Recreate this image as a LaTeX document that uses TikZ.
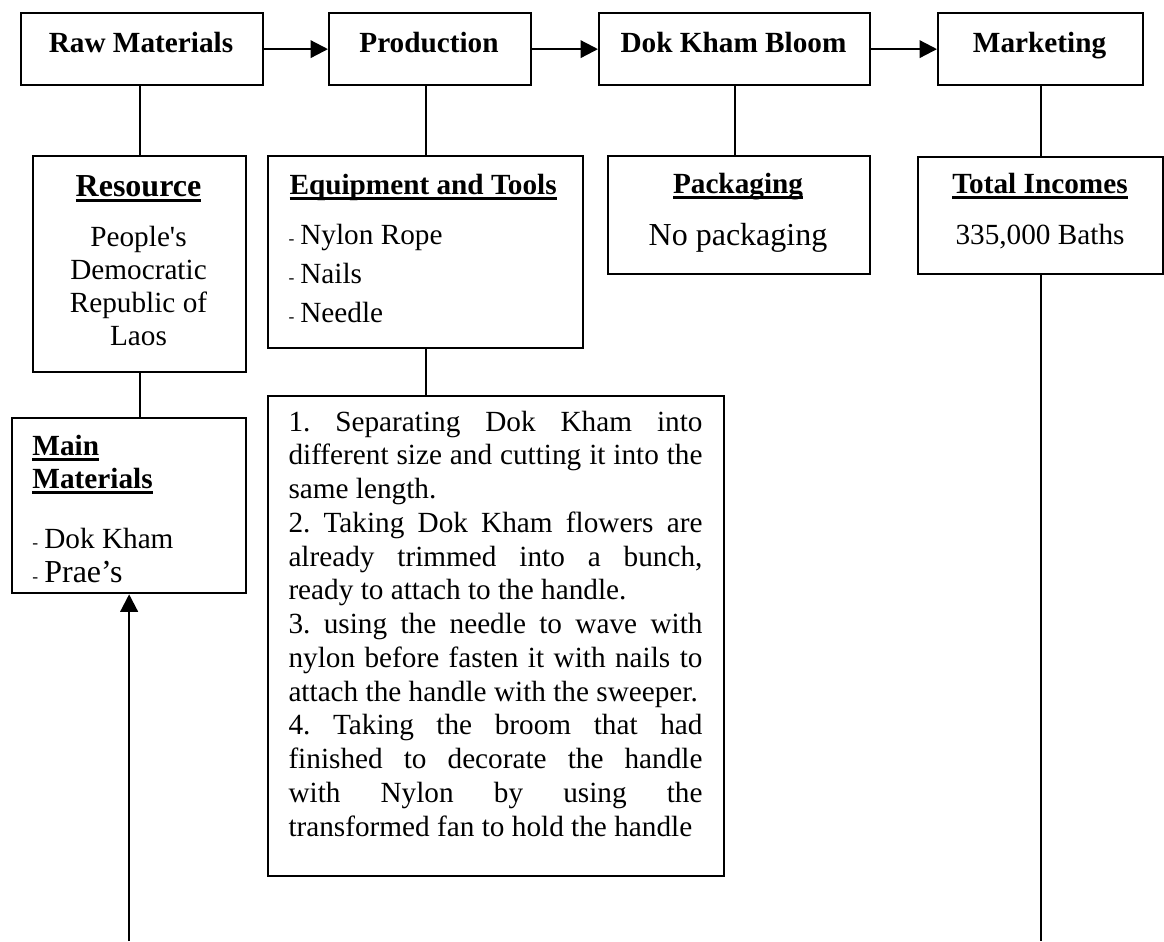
\documentclass[tikz,border=0pt]{standalone}
\usepackage{fontspec}
\setmainfont{Liberation Serif}
% same face without TeX ligature mapping, for a straight apostrophe
\newfontfamily\rawserif{Liberation Serif}
\usetikzlibrary{arrows.meta}

% bold heading with a thick rule underneath
\newcommand{\headline}[1]{\leavevmode\setbox0=\hbox{#1}\rlap{\rule[-2.4pt]{\wd0}{1.1pt}}\box0}
% small list dash
\newcommand{\smalldash}{\leavevmode{\fontsize{7}{7}\selectfont -}\hspace{2.4pt}}

\begin{document}
\begin{tikzpicture}[x=0.4pt,y=-0.4pt,
  box/.style={draw, line width=0.9pt, inner sep=0pt, anchor=north west},
  conn/.style={line width=0.9pt},
  flow/.style={line width=0.9pt, -{Triangle[length=7pt,width=7pt]}},
  ctext/.style={inner sep=0pt, anchor=base},
  ltext/.style={inner sep=0pt, anchor=base west},
  stage/.style={ctext, font=\fontsize{11.7}{13.5}\selectfont\bfseries},
  normal/.style={font=\fontsize{11.7}{13.5}\selectfont}]

\useasboundingbox (0,0) rectangle (1164,941);

% main chain
\node[box, minimum width=96.8pt,  minimum height=28.8pt] (raw)  at (20,12)  {};
\node[box, minimum width=80.8pt,  minimum height=28.8pt] (prod) at (328,12) {};
\node[box, minimum width=108.4pt, minimum height=28.8pt] (dok)  at (598,12) {};
\node[box, minimum width=82pt,    minimum height=28.8pt] (mkt)  at (937,12) {};

\node[stage] (rawT)  at (141,52)    {Raw Materials};
\node[stage] (prodT) at (429,52)    {Production};
\node[stage] (dokT)  at (733.5,52)  {Dok Kham Bloom};
\node[stage] (mktT)  at (1039.5,52) {Marketing};

% detail boxes
\node[box, minimum width=85.2pt,  minimum height=86.4pt] (res)   at (32,155)  {};
\node[box, minimum width=126pt,   minimum height=76.8pt] (equip) at (267,155) {};
\node[box, minimum width=104.8pt, minimum height=47.2pt] (pack)  at (607,155) {};
\node[box, minimum width=98pt,    minimum height=46.8pt] (total) at (917,156) {};
\node[box, minimum width=93.6pt,  minimum height=70pt]   (main)  at (11,417)  {};
\node[box, minimum width=182.4pt, minimum height=192pt]  (steps) at (267,395) {};

% Resource
\node[ctext, font=\fontsize{12.8}{14}\selectfont\bfseries] (resH) at (138.5,196) {\headline{Resource}};
\node[ctext, font=\fontsize{11.7}{13.2}\selectfont] (resB) at (138.5,246)
  {\parbox[t]{80pt}{\centering People{\rawserif'}s\\Democratic\\Republic of\\Laos}};

% Equipment and Tools
\node[ltext, font=\fontsize{11.7}{13.5}\selectfont\bfseries] (equipH) at (289,194) {\headline{Equipment and Tools}};
\node[ltext, font=\fontsize{11.7}{15.6}\selectfont] (equipB) at (288,244)
  {\parbox[t]{110pt}{\raggedright\smalldash Nylon Rope\\\smalldash Nails\\\smalldash Needle}};

% Packaging
\node[stage] (packH) at (738,193) {\headline{Packaging}};
\node[ctext, font=\fontsize{12.8}{14}\selectfont] (packB) at (738,245) {No packaging};

% Total Incomes
\node[stage] (totalH) at (1040,193) {\headline{Total Incomes}};
\node[ctext, normal] (totalB) at (1040,244) {335,000 Baths};

% Main Materials
\node[ltext, font=\fontsize{11.7}{13.2}\selectfont\bfseries] (mainH) at (32,455)
  {\parbox[t]{85pt}{\raggedright\headline{Main}\\\headline{Materials}}};
\node[ltext, normal] (mainA) at (32,548) {\smalldash Dok Kham};
\node[ltext, font=\fontsize{12.8}{14}\selectfont] (mainB) at (32,582) {\smalldash Prae’s};

% production steps
\node[ltext, normal] (stepsT) at (288,431)
  {\parbox[t]{165.6pt}{\frenchspacing\tolerance=10000\hyphenpenalty=10000\rightskip=0pt
   1. Separating Dok Kham into\linebreak different size and cutting it into the\linebreak same length.\par
   2. Taking Dok Kham flowers are\linebreak already trimmed into a bunch,\linebreak ready to attach to the handle.\par
   3. using the needle to wave with\linebreak nylon before fasten it with nails to\linebreak attach the handle with the sweeper.\par
   4. Taking the broom that had\linebreak finished to decorate the handle\linebreak with Nylon by using the\linebreak transformed fan to hold the handle}};

% connectors
\draw[flow] (raw.east) -- (prod.west);
\draw[flow] (prod.east) -- (dok.west);
\draw[flow] (dok.east) -- (mkt.west);

\draw[conn] (raw.south -| res.north) -- (res.north);
\draw[conn] (prod.south -| equip.north) -- (equip.north);
\draw[conn] (dok.south) -- (dok.south |- pack.north);
\draw[conn] (mkt.south) -- (mkt.south |- total.north);
\draw[conn] (res.south) -- (res.south |- main.north);
\draw[conn] (equip.south) -- (equip.south |- steps.north);

\coordinate (incEnd) at (total.south |- 0,941);
\draw[conn] (total.south) -- (incEnd);
\coordinate (srcEnd) at (main.south |- 0,941);
\draw[flow] (srcEnd) -- (main.south);
\end{tikzpicture}
\end{document}
